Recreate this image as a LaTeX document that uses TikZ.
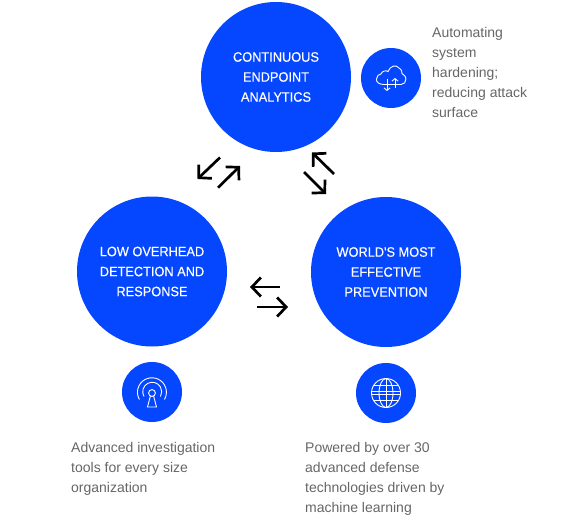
\documentclass[tikz,border=0pt]{standalone}
\usepackage{fontspec}
\setmainfont{Liberation Sans}
\newfontfamily\labelfont[FakeBold=0.4,FakeStretch=0.94]{Liberation Sans}
\usepackage{xcolor}
\usetikzlibrary{arrows.meta}
\definecolor{capblue}{HTML}{0546FF}
\definecolor{notegray}{HTML}{666666}
\tikzset{
  bigdisc/.style={
    shape = circle,
    fill = capblue,
    inner sep = 0pt,
    minimum size = 150pt,
    text = white,
    align = center,
    font = \labelfont\fontsize{13.6}{20}\selectfont
  },
  icondisc/.style={
    shape = circle,
    fill = capblue,
    inner sep = 0pt,
    minimum size = 60pt
  },
  note/.style={
    anchor = west,
    inner sep = 0pt,
    align = left,
    text = notegray,
    font = \fontsize{14}{20}\selectfont
  },
  swaparrow/.style={
    line width = 2.7pt,
    -{Straight Barb[length=9pt,width=19pt,line width=2.7pt]}
  },
  iconline/.style={
    draw = white,
    line width = 0.9pt
  },
}
\tikzset{
  pics/cloudicon/.style={
    code = {
      \draw[iconline] (-7,-6.5) .. controls (-12,-6.5) and (-15,-4) .. (-14.5,-1)
        .. controls (-14.5,2) and (-12,4) .. (-10,4)
        .. controls (-9,7) and (-5,8) .. (-3,6.5)
        .. controls (-1,12) and (5,14) .. (8,10)
        .. controls (11,8) and (11,6) .. (11,4.5)
        .. controls (14,3.5) and (15,0) .. (15,-1)
        .. controls (15,-4) and (13,-6.5) .. (10,-6.5) -- cycle;
      \draw[iconline,-{Straight Barb[length=2.5pt,width=6pt]}] (4,-10) -- (4,0);
      \draw[iconline,-{Straight Barb[length=2.5pt,width=6pt]}] (-4,-1) -- (-4,-13);
    }
  },
  pics/antennaicon/.style={
    code = {
      \draw[iconline] (-12.6,-7.5) arc (210:-30:14.5);
      \draw[iconline] (-8,-4.5) arc (210:-30:9.5);
      \draw[iconline] (0,-1) circle (3.4);
      \draw[iconline] (-1.6,-4) -- (-4.5,-15) -- (4.5,-15) -- (1.6,-4);
    }
  },
  pics/globeicon/.style={
    code = {
      \draw[iconline] (0,0) circle (14.5);
      \draw[iconline] (0,0) ellipse (7 and 14.5);
      \draw[iconline] (0,-14.5) -- (0,14.5);
      \foreach \y in {-1.2,1.2}{
      \draw[iconline] (-14.5,\y) -- (14.5,\y);}
      \draw[iconline] (-12.3,7.5) -- (12.3,7.5);
      \draw[iconline] (-12.3,-7.5) -- (12.3,-7.5);
    }
  },
}
\begin{document}
\begin{tikzpicture}[x=1pt,y=1pt]
    \useasboundingbox (0,0) rectangle (585,523);
    % main discs
    \node[bigdisc] (analytics) at (276,446) {CONTINUOUS\\ENDPOINT\\ANALYTICS};
    \node[bigdisc] (detection) at (152,251.5) {LOW OVERHEAD\\DETECTION AND\\RESPONSE};
    \node[bigdisc] (prevention) at (386,251) {WORLD'S MOST\\EFFECTIVE\\PREVENTION};
    % icons
    \node[icondisc] (clouddisc) at (391,445) {};
    \node[icondisc] (antennadisc) at (152,131) {};
    \node[icondisc] (globedisc) at (386,130) {};
    \pic at (clouddisc) {cloudicon};
    \pic at (antennadisc) {antennaicon};
    \pic at (globedisc) {globeicon};
    % notes
    \node[note] (hardening) at (432,451) {Automating\\system\\hardening;\\reducing attack\\surface};
    \node[note] (investigation) at (71,54.5) {Advanced investigation\\tools for every size\\organization};
    \node[note] (defense) at (305,44.5) {Powered by over 30\\advanced defense\\technologies driven by\\machine learning};
    % arrows
    \coordinate (aa) at (220,365.5);
    \coordinate (ab) at (197.5,344);
    \coordinate (ba) at (218,335.3);
    \coordinate (bb) at (240,357);
    \coordinate (ca) at (334,349);
    \coordinate (cb) at (312,370.5);
    \coordinate (da) at (304,351);
    \coordinate (db) at (326,329);
    \coordinate (ea) at (280,236);
    \coordinate (eb) at (250,236);
    \coordinate (fa) at (257,216);
    \coordinate (fb) at (288,216);
    \foreach \t/\h in {aa/ab,ba/bb,ca/cb,da/db,ea/eb,fa/fb}{
    \draw[swaparrow] (\t) -- (\h);}
\end{tikzpicture}
\end{document}
